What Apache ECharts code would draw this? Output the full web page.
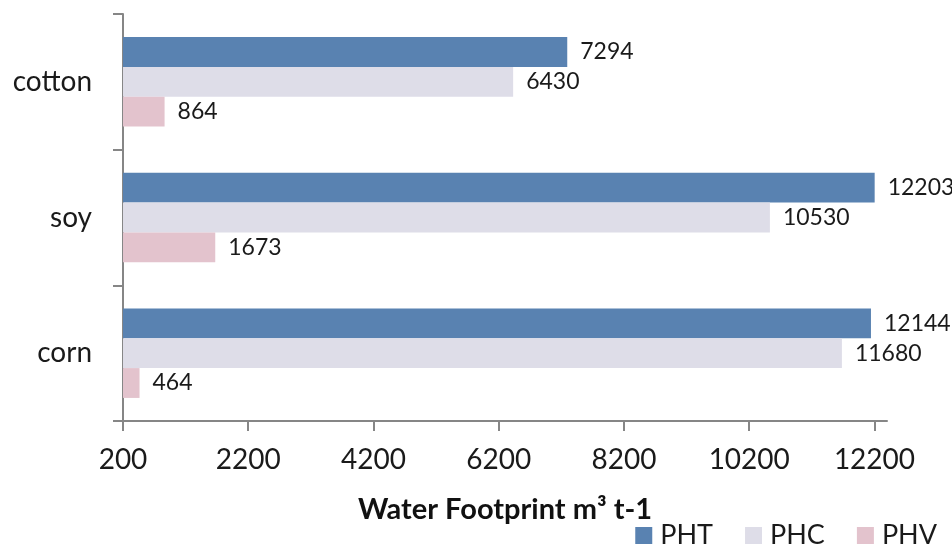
<!DOCTYPE html>
<html>
<head>
<meta charset="utf-8">
<script src="https://cdn.jsdelivr.net/npm/echarts@6/dist/echarts.min.js"></script>
<style>
  html, body { margin: 0; padding: 0; background: #fff; }
  #chart { width: 952px; height: 549px; }
</style>
</head>
<body>
<div id="chart"></div>
<script>
// Crop water footprint by component
const crops = ['cotton', 'soy', 'corn'];
const seriesNames = ['PHT', 'PHC', 'PHV'];
const phtValues = [7294, 12203, 12144];
const phcValues = [6430, 10530, 11680];
const phvValues = [864, 1673, 464];
const xTicks = [200, 2200, 4200, 6200, 8200, 10200, 12200];

const colors = ['#5982B1', '#DEDDE8', '#E3C3CD'];
const font = 'Lato, "Open Sans", sans-serif';
const axisGray = '#868686';

const chart = echarts.init(document.getElementById('chart'));

function barSeries(name, values, color) {
  return {
    name: name,
    type: 'bar',
    data: values,
    barGap: '0%',
    barCategoryGap: '34%',
    itemStyle: { color: color },
    label: {
      show: true,
      position: 'right',
      distance: 13,
      color: '#1a1a1a',
      fontFamily: font,
      fontSize: 23
    }
  };
}

chart.setOption({
  animation: false,
  grid: { left: 123, right: 65, top: 14, bottom: 128 },
  legend: {
    data: seriesNames,
    right: 15,
    bottom: 0,
    padding: 0,
    itemWidth: 17,
    itemHeight: 17,
    itemGap: 32,
    icon: 'rect',
    textStyle: { fontFamily: font, fontSize: 27, color: '#1a1a1a', padding: [0, 0, 0, 3] }
  },
  xAxis: {
    type: 'value',
    min: 200,
    max: 12400,
    interval: 2000,
    name: 'Water Footprint m³ t-1',
    nameLocation: 'middle',
    nameGap: 74,
    nameTextStyle: { fontFamily: font, fontSize: 29, fontWeight: 'bold', color: '#111' },
    axisLine: { show: true, lineStyle: { color: axisGray, width: 2 } },
    axisTick: { show: true, length: 10, lineStyle: { color: axisGray, width: 2 }, customValues: xTicks },
    axisLabel: {
      fontFamily: font, fontSize: 28, color: '#1a1a1a', margin: 25,
      customValues: xTicks,
      formatter: (v) => String(v)
    },
    splitLine: { show: false }
  },
  yAxis: {
    type: 'category',
    data: crops,
    inverse: true,
    axisLine: { show: true, lineStyle: { color: axisGray, width: 2 } },
    axisTick: { show: true, length: 10, lineStyle: { color: axisGray, width: 2 } },
    axisLabel: { fontFamily: font, fontSize: 28, color: '#1a1a1a', margin: 31 }
  },
  series: [
    barSeries(seriesNames[0], phtValues, colors[0]),
    barSeries(seriesNames[1], phcValues, colors[1]),
    barSeries(seriesNames[2], phvValues, colors[2])
  ]
});
</script>
</body>
</html>
